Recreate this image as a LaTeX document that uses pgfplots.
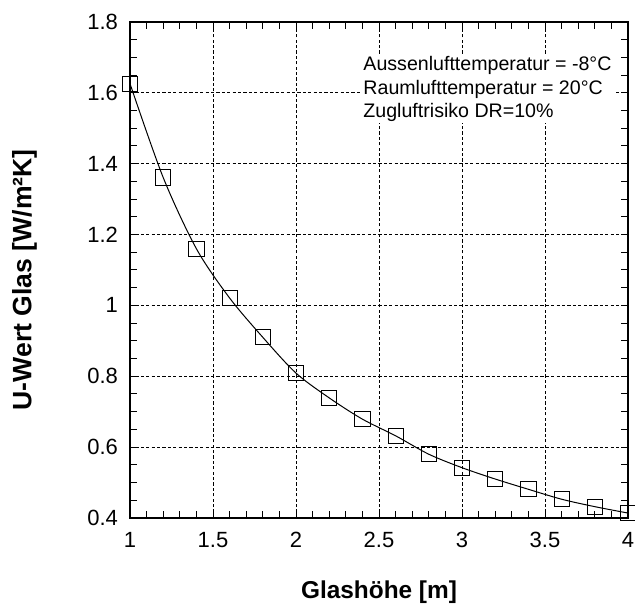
\documentclass[border=0pt]{standalone}
\usepackage{fontspec}
\setmainfont{Liberation Sans}
\usepackage{pgfplots}
\pgfplotsset{compat=1.18}
\begin{document}
\begin{tikzpicture}
\useasboundingbox (-65pt,-45pt) rectangle (252.5pt,259pt);
\begin{axis}[
  scale only axis,
  width=249pt, height=248pt,
  xmin=1, xmax=4, ymin=0.4, ymax=1.8,
  xtick={1,1.5,...,4}, ytick={0.4,0.6,...,1.8},
  minor x tick num=4, minor y tick num=3,
  tick align=inside,
  major tick length=3.5pt, minor tick length=3.5pt,
  every tick/.style={black, line width=0.5pt},
  axis line style={black, line width=0.6pt},
  grid=major,
  major grid style={black, line width=0.4pt, dash pattern=on 1.6pt off 1.1pt},
  /pgf/number format/assume math mode=true,
  tick label style={font=\fontsize{11}{13}\selectfont, black},
  xticklabel style={yshift=-3.5pt},
  yticklabel style={xshift=-2.5pt},
  xlabel={Glashöhe [m]},
  ylabel={U-Wert Glas [W/m²K]},
  xlabel style={font=\fontsize{12.2}{14}\selectfont\bfseries, at={(axis description cs:0.5,-0.149)}, anchor=center},
  ylabel style={font=\fontsize{13.3}{15}\selectfont\bfseries, at={(axis description cs:-0.212,0.48)}, anchor=center},
  clip=false,
]
\addplot[black, line width=0.5pt, smooth, mark=square, mark size=3.8pt,
  mark options={solid, line width=0.5pt}] coordinates {
  (1.0,1.626) (1.2,1.361) (1.4,1.160) (1.6,1.021) (1.8,0.910)
  (2.0,0.809) (2.2,0.739) (2.4,0.679) (2.6,0.632) (2.8,0.580)
  (3.0,0.542) (3.2,0.510) (3.4,0.481) (3.6,0.453) (3.8,0.432)
  (4.0,0.414)
};
\node[anchor=north west, align=left, inner sep=1pt, fill=white,
  xshift=-1pt, yshift=1pt,
  font=\fontsize{9.8}{11.7}\selectfont] at (axis cs:2.404,1.704)
  {Aussenlufttemperatur = -8°C\\Raumlufttemperatur = 20°C\\Zugluftrisiko DR=10\%};
\end{axis}
\end{tikzpicture}
\end{document}
